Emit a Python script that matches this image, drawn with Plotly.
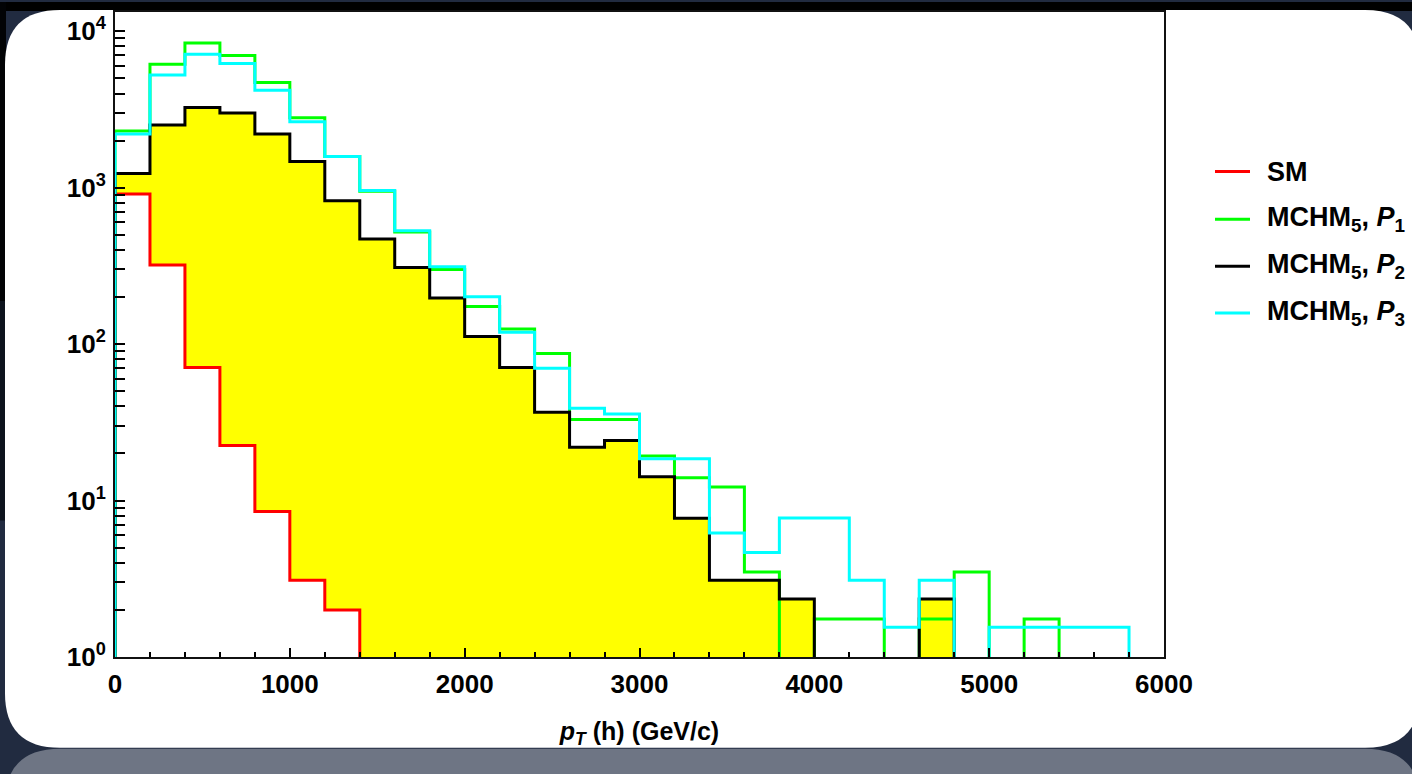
import numpy as np
import plotly.graph_objects as go

# ---- data (histogram of p_T(h), bins of 200 GeV/c from 0 to 6000) ----
bin_edges = list(range(0, 6001, 200))

sm = [910, 320, 71, 22.5, 8.5, 3.1, 2.0, 0, 0, 0,
      0, 0, 0, 0, 0, 0, 0, 0, 0, 0,
      0, 0, 0, 0, 0, 0, 0, 0, 0, 0]

p1 = [2300, 6150, 8400, 7000, 4700, 2800, 1580, 950, 520, 300,
      174, 125, 87, 33, 33, 19.3, 14.0, 12.2, 3.5, 0,
      1.75, 1.75, 0, 1.75, 3.5, 0, 1.75, 0, 0, 0]

p2 = [1230, 2520, 3250, 3000, 2200, 1470, 825, 470, 309, 197,
      112, 71, 36.7, 21.9, 24.2, 14.2, 7.7, 3.1, 3.1, 2.35,
      0, 0, 0, 2.35, 0, 0, 0, 0, 0, 0]

p3 = [2200, 5260, 7130, 6210, 4200, 2640, 1580, 960, 530, 312,
      201, 119, 70, 38.9, 35.8, 18.5, 18.5, 6.2, 4.65, 7.75,
      7.75, 3.1, 1.55, 3.1, 0, 1.55, 1.55, 1.55, 1.55, 0]

series_names = ["SM", "MCHM<sub>5</sub>, <i>P</i><sub>1</sub>",
                "MCHM<sub>5</sub>, <i>P</i><sub>2</sub>",
                "MCHM<sub>5</sub>, <i>P</i><sub>3</sub>"]
series_colors = ["#ff0000", "#00ff00", "#000000", "#00ffff"]

x_ticks = [0, 1000, 2000, 3000, 4000, 5000, 6000]
y_decades = [1, 10, 100, 1000, 10000]

FLOOR = 1e-2  # empty bins drop below the axis (clipped)


def step(vals):
    xs = [bin_edges[0]] + bin_edges
    ys = [FLOOR] + [v if v > 0 else FLOOR for v in vals] + [FLOOR]
    return xs, ys


fig = go.Figure()

# yellow filling between SM and P2
xs, ys = step(sm)
fig.add_trace(go.Scatter(x=xs, y=ys, mode="lines", line=dict(width=0, shape="hv"),
                         showlegend=False, hoverinfo="skip"))
xs, ys = step(p2)
fig.add_trace(go.Scatter(x=xs, y=ys, mode="lines", line=dict(width=0, shape="hv"),
                         fill="tonexty", fillcolor="#ffff00",
                         showlegend=False, hoverinfo="skip"))

for vals, name, col in zip([sm, p1, p2, p3], series_names, series_colors):
    xs, ys = step(vals)
    fig.add_trace(go.Scatter(x=xs, y=ys, mode="lines", name=name,
                             line=dict(color=col, width=3, shape="hv"),
                             showlegend=False))

# ---- geometry helpers (pixel -> paper) ----
L, R, T, B = 115, 248, 10, 117
W, H = 1412, 774
PW, PH = W - L - R, H - T - B


def px(x):
    return (x - L) / PW


def py(y):
    return (H - B - y) / PH


def rrect(x0, y0, x1, y1, r):
    p = f"M {px(x0 + r)},{py(y0)} L {px(x1 - r)},{py(y0)} "
    p += f"Q {px(x1)},{py(y0)} {px(x1)},{py(y0 + r)} "
    p += f"L {px(x1)},{py(y1 - r)} Q {px(x1)},{py(y1)} {px(x1 - r)},{py(y1)} "
    p += f"L {px(x0 + r)},{py(y1)} Q {px(x0)},{py(y1)} {px(x0)},{py(y1 - r)} "
    p += f"L {px(x0)},{py(y0 + r)} Q {px(x0)},{py(y0)} {px(x0 + r)},{py(y0)} Z"
    return p


shapes = [
    dict(type="rect", xref="paper", yref="paper", x0=px(0), x1=px(W), y0=py(0), y1=py(9),
         fillcolor="#000000", line_width=0, layer="below"),
    dict(type="rect", xref="paper", yref="paper", x0=px(0), x1=px(6), y0=py(0), y1=py(300),
         fillcolor="#020305", line_width=0, layer="below"),
    dict(type="rect", xref="paper", yref="paper", x0=px(0), x1=px(6), y0=py(300), y1=py(520),
         fillcolor="#0d131d", line_width=0, layer="below"),
    # reflection band
    dict(type="path", xref="paper", yref="paper", path=rrect(5, 749, 1420, 860, 55),
         fillcolor="#6e7584", line_width=0, layer="below"),
    # white card
    dict(type="path", xref="paper", yref="paper", path=rrect(5, 8, 1420, 748, 55),
         fillcolor="#ffffff", line_width=0, layer="below"),
]

annotations = []
rows = [170, 218, 265, 312]
for name, col, yy in zip(series_names, series_colors, rows):
    shapes.append(dict(type="line", xref="paper", yref="paper",
                       x0=px(1215), x1=px(1250), y0=py(yy), y1=py(yy),
                       line=dict(color=col, width=3)))
    annotations.append(dict(xref="paper", yref="paper", x=px(1265), y=py(yy),
                            xanchor="left", yanchor="middle", showarrow=False,
                            text=f"<b>{name}</b>",
                            font=dict(family="Liberation Sans, Arial", size=27, color="#000")))

minor_vals = [d * m for d in y_decades for m in range(2, 10) if d * m < 13000]

fig.update_layout(
    width=W, height=H,
    margin=dict(l=L, r=R, t=T, b=B, pad=0),
    paper_bgcolor="#212b40",
    plot_bgcolor="#ffffff",
    shapes=shapes,
    annotations=annotations,
    showlegend=False,
    font=dict(family="Liberation Sans, Arial", color="#000"),
    xaxis=dict(
        range=[0, 6000], tickmode="array", tickvals=x_ticks,
        ticktext=[f"<b>{v}</b>" for v in x_ticks],
        ticks="inside", ticklen=9, tickwidth=2, tickcolor="#000",
        minor=dict(dtick=200, tick0=0, ticks="inside", ticklen=5, tickwidth=2, tickcolor="#000"),
        showline=True, linecolor="#111", linewidth=2, mirror=True,
        showgrid=False, zeroline=False,
        tickfont=dict(size=26, family="Liberation Sans, Arial", color="#000"),
        ticklabelstandoff=3,
        title=dict(text="<b><i>p</i><sub><i>T</i></sub> (h) (GeV/c)</b>",
                   font=dict(size=25, family="Liberation Sans, Arial", color="#000"),
                   standoff=24),
    ),
    yaxis=dict(
        type="log", range=[0, 4.123], tickmode="array",
        tickvals=y_decades,
        ticktext=[f"<b>10<sup>{int(round(np.log10(d)))}</sup></b>" for d in y_decades],
        ticks="inside", ticklen=10, tickwidth=2, tickcolor="#000",
        minor=dict(tickmode="array", tickvals=minor_vals, ticks="inside",
                   ticklen=10, tickwidth=2, tickcolor="#000", showgrid=False),
        showline=True, linecolor="#111", linewidth=2, mirror=True,
        showgrid=False, zeroline=False,
        tickfont=dict(size=26, family="Liberation Sans, Arial", color="#000"),
        ticklabelstandoff=2,
    ),
)

fig.write_html("out.html", config={"displayModeBar": False},
               post_script="document.body.style.margin='0';document.body.style.overflow='hidden';")
